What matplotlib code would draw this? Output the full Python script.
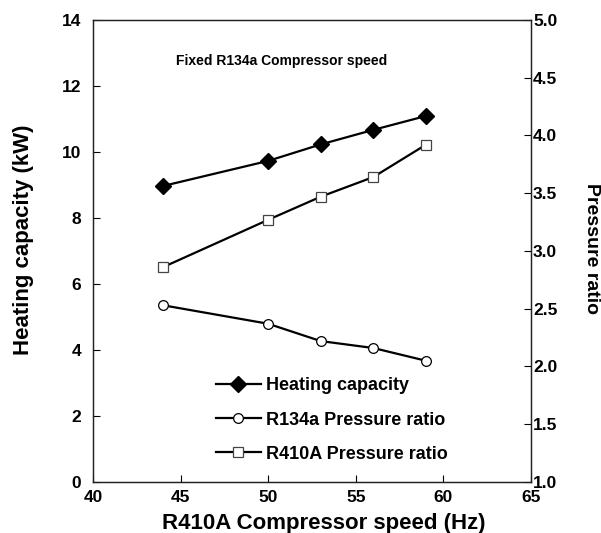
import matplotlib
matplotlib.use('Agg')
import matplotlib.pyplot as plt

plt.rcParams['font.family'] = ['Liberation Sans', 'DejaVu Sans']
plt.rcParams['font.weight'] = 'bold'

speed = [44, 50, 53, 56, 59]
heating = [8.97, 9.73, 10.23, 10.67, 11.09]
pr_r134a = [2.53, 2.37, 2.22, 2.16, 2.05]
pr_r410a = [2.86, 3.27, 3.47, 3.64, 3.92]

fig = plt.figure(figsize=(6.01, 5.33), dpi=100)
ax = fig.add_axes([0.1547, 0.0957, 0.7288, 0.8668])
ax2 = ax.twinx()

l1, = ax.plot(speed, heating, color='black', lw=1.6, marker='D', ms=8,
              mfc='black', mec='black', label='Heating capacity')
l2, = ax2.plot(speed, pr_r134a, color='black', lw=1.6, marker='o', ms=7,
               mfc='white', mec='black', mew=0.9, label='R134a Pressure ratio')
l3, = ax2.plot(speed, pr_r410a, color='black', lw=1.6, marker='s', ms=7,
               mfc='white', mec='#444444', mew=0.9, label='R410A Pressure ratio')

ax.set_xlim(40, 65)
ax.set_ylim(0, 14)
ax2.set_ylim(1.0, 5.0)
ax.set_xticks([40, 45, 50, 55, 60, 65])
ax.set_yticks(range(0, 15, 2))
ax2.set_yticks([1.0, 1.5, 2.0, 2.5, 3.0, 3.5, 4.0, 4.5, 5.0])
ax2.set_yticklabels(['%.1f' % v for v in ax2.get_yticks()])

ax.tick_params(axis='both', direction='in', length=5, width=0.8,
               labelsize=12.5, top=False, right=False)
ax.tick_params(axis='y', pad=8.5)
ax.tick_params(axis='x', pad=6)
ax2.tick_params(axis='y', direction='in', length=5, width=0.8,
                labelsize=12.5, pad=1.5)
for a in (ax, ax2):
    for s in a.spines.values():
        s.set_linewidth(0.9)
        s.set_color('#222222')

ax.set_xlabel('R410A Compressor speed (Hz)', fontsize=16, fontweight='bold')
ax.xaxis.set_label_coords(0.526, -0.067)
ax.set_ylabel('Heating capacity (kW)', fontsize=16, fontweight='bold')
ax.yaxis.set_label_coords(-0.135, 0.524)
ax2.set_ylabel('Pressure ratio', fontsize=14, fontweight='bold', rotation=270, va='bottom')
ax2.yaxis.set_label_coords(1.118, 0.506)

ax.text(0.43, 0.911, 'Fixed R134a Compressor speed', transform=ax.transAxes,
        ha='center', va='center', fontsize=10, fontweight='bold')

ax2.legend(handles=[l1, l2, l3], loc='center', bbox_to_anchor=(0.545, 0.134),
           frameon=False, fontsize=13, handlelength=2.5, labelspacing=0.95,
           handletextpad=0.3)

fig.savefig('out.png', dpi=100)
